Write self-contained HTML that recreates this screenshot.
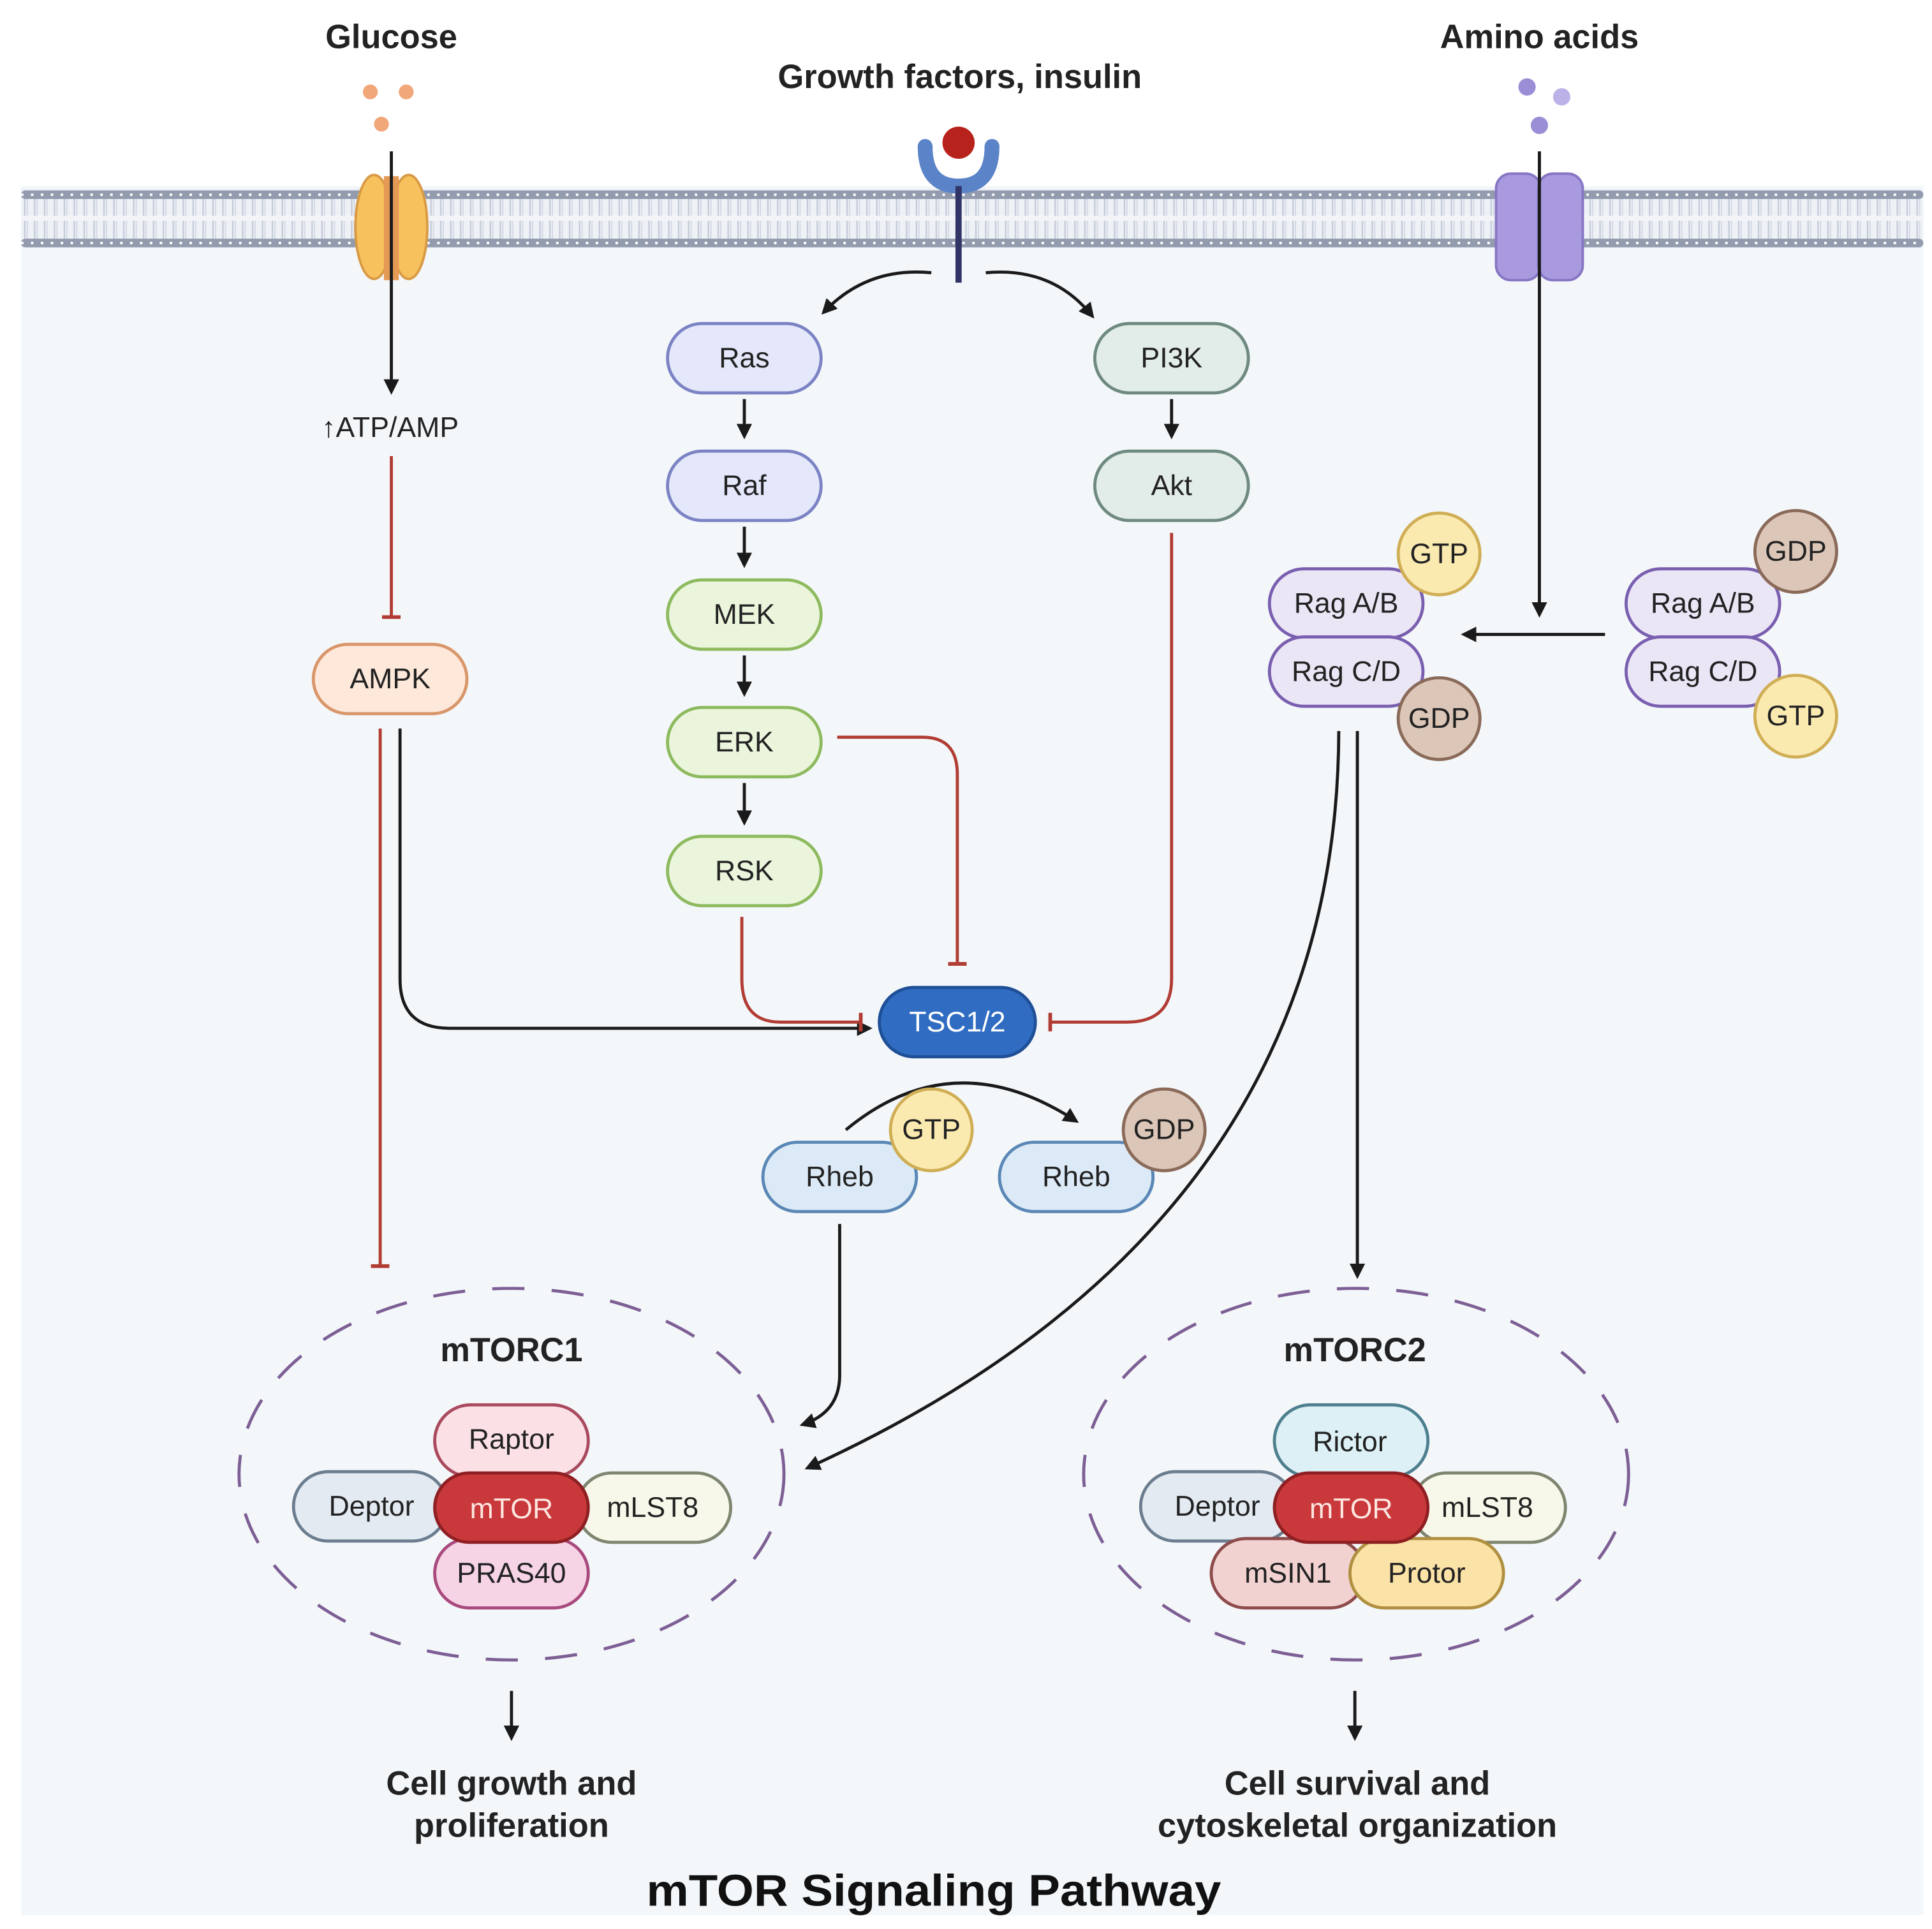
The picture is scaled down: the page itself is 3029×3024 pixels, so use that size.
<!DOCTYPE html>
<html><head><meta charset="utf-8"><style>
html,body{margin:0;padding:0;background:#fff}
svg{display:block}
text{font-family:"Liberation Sans",sans-serif;text-anchor:middle;dominant-baseline:central}
.n{font-size:23px;fill:#222}
.b{font-weight:bold;font-size:27px;fill:#222}
</style></head><body>
<svg width="3029" height="3024" viewBox="0 0 1560 1557" xmlns="http://www.w3.org/2000/svg">
<defs>
<pattern id="tails" x="17" y="0" width="8" height="40" patternUnits="userSpaceOnUse">
<line x1="3" y1="0" x2="3" y2="40" stroke="#c3cad8" stroke-width="1.2"/>
<line x1="5" y1="0" x2="5" y2="40" stroke="#d3d9e4" stroke-width="1"/>
</pattern>
<marker id="ar" viewBox="0 0 10 10" refX="8" refY="5" markerWidth="5" markerHeight="5" orient="auto"><path d="M0,0L10,5L0,10z" fill="#1a1a1a"/></marker>
<marker id="inh" viewBox="0 0 10 10" refX="5" refY="5" markerWidth="6" markerHeight="6" orient="auto"><path d="M5,0V10" stroke="#b13c33" stroke-width="2"/></marker>
</defs>
<rect x="17" y="150" width="1536" height="1396" fill="#f4f7fa"/>
<!-- membrane -->
<rect x="17" y="152" width="1536" height="48" fill="#eef1f6"/>
<rect x="17" y="160" width="1536" height="33" fill="url(#tails)"/>
<rect x="17" y="174" width="1536" height="4" fill="#f2f4f8"/>
<rect x="17" y="153.5" width="1536" height="7" rx="3.5" fill="#939cae"/>
<rect x="17" y="192.5" width="1536" height="7" rx="3.5" fill="#939cae"/>
<g stroke="#ffffff" stroke-width="2">
<path d="M17,157H1553M17,196H1553" stroke-dasharray="2 6"/>
</g>
<!-- glucose transporter -->
<ellipse cx="302" cy="183" rx="15" ry="42" fill="#f7c25e" stroke="#d99a45" stroke-width="2"/>
<ellipse cx="330" cy="183" rx="15" ry="42" fill="#f7c25e" stroke="#d99a45" stroke-width="2"/>
<rect x="310" y="142" width="12" height="84" fill="#e49a55"/>
<circle cx="299" cy="74" r="6" fill="#f1a77a"/><circle cx="328" cy="74" r="6" fill="#f1a77a"/><circle cx="308" cy="100" r="6" fill="#f1a77a"/>
<!-- amino transporter -->
<rect x="1208" y="140" width="36" height="86" rx="12" fill="#a99ae0" stroke="#8676c4" stroke-width="2"/>
<rect x="1242" y="140" width="36" height="86" rx="12" fill="#a99ae0" stroke="#8676c4" stroke-width="2"/>
<circle cx="1233" cy="70" r="7" fill="#9b8ed6"/><circle cx="1261" cy="78" r="7" fill="#bcb2e8"/><circle cx="1243" cy="101" r="7" fill="#9b8ed6"/>
<!-- receptor -->
<path d="M747,118 Q747,150 774,150 Q801,150 801,118" fill="none" stroke="#5b83c8" stroke-width="12" stroke-linecap="round"/>
<circle cx="774" cy="115" r="13" fill="#b8221c"/>
<line x1="774" y1="150" x2="774" y2="228" stroke="#303466" stroke-width="5"/>
<!-- titles -->
<text class="b" x="316" y="30">Glucose</text>
<text class="b" x="775" y="62">Growth factors, insulin</text>
<text class="b" x="1243" y="30">Amino acids</text>
<text class="n" x="315" y="345">↑ATP/AMP</text>
<!-- black arrows -->
<g stroke="#1a1a1a" stroke-width="2.5" fill="none" marker-end="url(#ar)">
<path d="M316,122V316"/>
<path d="M752,220 Q700,215 665,252"/>
<path d="M796,220 Q850,215 882,255"/>
<path d="M601,322V352"/><path d="M601,425V456"/><path d="M601,529V560"/><path d="M601,632V664"/>
<path d="M946,322V352"/>
<path d="M1243,122V496"/>
<path d="M1296,512H1182"/>
<path d="M323,588 V790 Q323,830 363,830 H702"/>
<path d="M683,912 Q770,840 869,905"/>
<path d="M678,988 V1110 Q678,1140 648,1150"/>
<path d="M1081,590 Q1080,990 652,1185"/>
<path d="M1096,590 V1030"/>
<path d="M413,1365V1403"/>
<path d="M1094,1365V1403"/>
</g>
<!-- inhibitions -->
<g stroke="#b13c33" stroke-width="2.5" fill="none" marker-end="url(#inh)">
<path d="M316,368V498"/>
<path d="M307,588V1022"/>
<path d="M676,595 H745 Q773,595 773,625 V778"/>
<path d="M599,740 V790 Q599,825 630,825 H695"/>
<path d="M946,430 V790 Q946,825 910,825 H848"/>
</g>
<!-- nodes -->
<g stroke-width="2.5">
<g fill="#e4e8fa" stroke="#7b83c4">
<rect x="539" y="261" width="124" height="56" rx="28"/><rect x="539" y="364" width="124" height="56" rx="28"/></g>
<g fill="#eaf5dc" stroke="#8dba5e">
<rect x="539" y="468" width="124" height="56" rx="28"/><rect x="539" y="571" width="124" height="56" rx="28"/><rect x="539" y="675" width="124" height="56" rx="28"/></g>
<g fill="#e2ece8" stroke="#6e8a80">
<rect x="884" y="261" width="124" height="56" rx="28"/><rect x="884" y="364" width="124" height="56" rx="28"/></g>
<rect x="253" y="520" width="124" height="56" rx="28" fill="#fde8da" stroke="#d9966a"/>
<rect x="710" y="797" width="126" height="56" rx="28" fill="#2f6cc2" stroke="#1f4f96"/>
<g fill="#dceaf7" stroke="#5a87b5">
<rect x="616" y="922" width="124" height="56" rx="28"/><rect x="807" y="922" width="124" height="56" rx="28"/></g>
<circle cx="752" cy="912" r="33" fill="#fbeab0" stroke="#cfae55"/>
<circle cx="940" cy="912" r="33" fill="#dcc6b8" stroke="#8a6a58"/>
<g fill="#ebe6f6" stroke="#7a5fb0">
<rect x="1025" y="459" width="124" height="56" rx="28"/><rect x="1025" y="514" width="124" height="56" rx="28"/>
<rect x="1313" y="459" width="124" height="56" rx="28"/><rect x="1313" y="514" width="124" height="56" rx="28"/></g>
<circle cx="1162" cy="447" r="33" fill="#fbeab0" stroke="#cfae55"/>
<circle cx="1162" cy="580" r="33" fill="#dcc6b8" stroke="#8a6a58"/>
<circle cx="1450" cy="445" r="33" fill="#dcc6b8" stroke="#8a6a58"/>
<circle cx="1450" cy="578" r="33" fill="#fbeab0" stroke="#cfae55"/>
</g>
<text class="n" x="601" y="289">Ras</text><text class="n" x="601" y="392">Raf</text>
<text class="n" x="601" y="496">MEK</text><text class="n" x="601" y="599">ERK</text><text class="n" x="601" y="703">RSK</text>
<text class="n" x="946" y="289">PI3K</text><text class="n" x="946" y="392">Akt</text>
<text class="n" x="315" y="548">AMPK</text>
<text class="n" x="773" y="825" style="fill:#fff">TSC1/2</text>
<text class="n" x="678" y="950">Rheb</text><text class="n" x="869" y="950">Rheb</text>
<text class="n" x="752" y="912">GTP</text><text class="n" x="940" y="912">GDP</text>
<text class="n" x="1087" y="487">Rag A/B</text><text class="n" x="1087" y="542">Rag C/D</text>
<text class="n" x="1375" y="487">Rag A/B</text><text class="n" x="1375" y="542">Rag C/D</text>
<text class="n" x="1162" y="447">GTP</text><text class="n" x="1162" y="580">GDP</text>
<text class="n" x="1450" y="445">GDP</text><text class="n" x="1450" y="578">GTP</text>
<!-- complexes -->
<g fill="none" stroke="#7d5f95" stroke-width="2.5" stroke-dasharray="26 22">
<ellipse cx="413" cy="1190" rx="220" ry="150"/>
<ellipse cx="1095" cy="1190" rx="220" ry="150"/>
</g>
<text class="b" x="413" y="1090">mTORC1</text>
<text class="b" x="1094" y="1090">mTORC2</text>
<g stroke-width="2.5">
<rect x="351" y="1134" width="124" height="58" rx="29" fill="#fbe1e6" stroke="#a94a5e"/>
<rect x="351" y="1242" width="124" height="56" rx="28" fill="#f6d3e5" stroke="#a94a7e"/>
<rect x="237" y="1188" width="124" height="56" rx="28" fill="#e3eaf2" stroke="#6b7d8e"/>
<rect x="466" y="1189" width="124" height="56" rx="28" fill="#f8f8ea" stroke="#7e8670"/>
<rect x="351" y="1189" width="124" height="56" rx="28" fill="#c9383a" stroke="#8e1f22"/>
<rect x="1029" y="1134" width="124" height="58" rx="29" fill="#dcf0f5" stroke="#4e7f8e"/>
<rect x="921" y="1188" width="124" height="56" rx="28" fill="#e3eaf2" stroke="#6b7d8e"/>
<rect x="1140" y="1189" width="124" height="56" rx="28" fill="#f8f8ea" stroke="#7e8670"/>
<rect x="978" y="1242" width="124" height="56" rx="28" fill="#f1d2d0" stroke="#8e4b4b"/>
<rect x="1090" y="1242" width="124" height="56" rx="28" fill="#fbe2a6" stroke="#b09040"/>
<rect x="1029" y="1189" width="124" height="56" rx="28" fill="#c9383a" stroke="#8e1f22"/>
</g>
<text class="n" x="413" y="1162">Raptor</text><text class="n" x="413" y="1270">PRAS40</text>
<text class="n" x="300" y="1216">Deptor</text><text class="n" x="527" y="1217">mLST8</text>
<text class="n" x="413" y="1218" style="fill:#fde6e0">mTOR</text>
<text class="n" x="1090" y="1164">Rictor</text><text class="n" x="983" y="1216">Deptor</text>
<text class="n" x="1201" y="1217">mLST8</text><text class="n" x="1040" y="1270">mSIN1</text>
<text class="n" x="1152" y="1270">Protor</text>
<text class="n" x="1091" y="1218" style="fill:#fde6e0">mTOR</text>
<text class="b" x="413" y="1440">Cell growth and</text><text class="b" x="413" y="1474">proliferation</text>
<text class="b" x="1096" y="1440">Cell survival and</text><text class="b" x="1096" y="1474">cytoskeletal organization</text>
<text class="b" x="754" y="1526" style="font-size:36px;fill:#111" textLength="464" lengthAdjust="spacingAndGlyphs">mTOR Signaling Pathway</text>
</svg>
</body></html>
